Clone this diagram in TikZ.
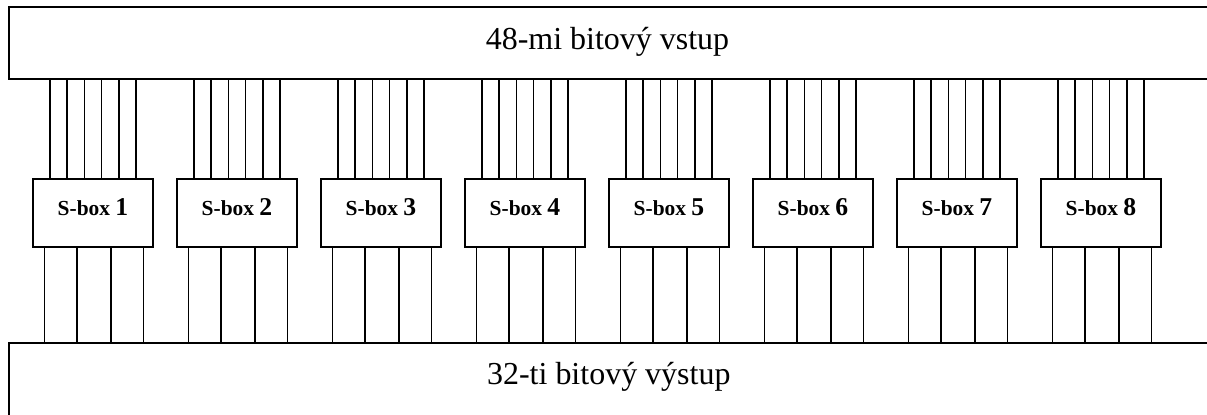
\documentclass[tikz,border=0pt]{standalone}
\usepackage{fontspec}
\setmainfont{Liberation Serif}
\tikzset{
		busStyle/.style  = {draw, line width = 1pt, minimum width = 24.63cm, inner sep = 0pt},
		sboxStyle/.style = {draw, line width = 1pt, minimum width = 2.414cm, minimum height = 1.36cm,
		                    inner sep = 0pt, text depth = 7pt, font = \bfseries\fontsize{12.2}{14}\selectfont},
		wireStyle/.style = {line width = 0.95pt},
		busText/.style   = {anchor = base, font = \fontsize{18.2}{22}\selectfont}
}

\begin{document}
\begin{tikzpicture}[x=0.02cm, y=-0.02cm]
  \clip (0,0) rectangle (1207,414);

  % Input and output buses (open to the right)
  \node [busStyle, minimum height = 1.44cm] (inBus)  at (624.25,43)   {};
  \node [busStyle, minimum height = 1.94cm] (outBus) at (624.25,391.5) {};
  \node [busText] (inText)  at (607.5,49.3)  {48-mi bitový vstup};
  \node [busText] (outText) at (608.8,384.3) {32-ti bitový výstup};

  % Draw the eight S-boxes
  \foreach \i in {1,...,8}
    \node [sboxStyle] (sb\i) at (93+144*\i-144,213.3) {S-box {\fontsize{14.6}{16}\selectfont\i}};

  % Six input wires into each S-box
  \foreach \i in {1,...,8}
    \foreach \dx in {-42.9,-25.7,-8.6,8.6,25.7,42.9}
    {
      \path ([xshift=\dx*0.02cm]sb\i.north) coordinate (wIn);
      \draw [wireStyle] (wIn) -- (wIn |- inBus.south);
    }

  % Four output wires out of each S-box
  \foreach \i in {1,...,8}
    \foreach \dx in {-48.5,-16.2,18.3,50.4}
    {
      \path ([xshift=\dx*0.02cm]sb\i.south) coordinate (wOut);
      \draw [wireStyle] (wOut) -- (wOut |- outBus.north);
    }

\end{tikzpicture}
\end{document}
